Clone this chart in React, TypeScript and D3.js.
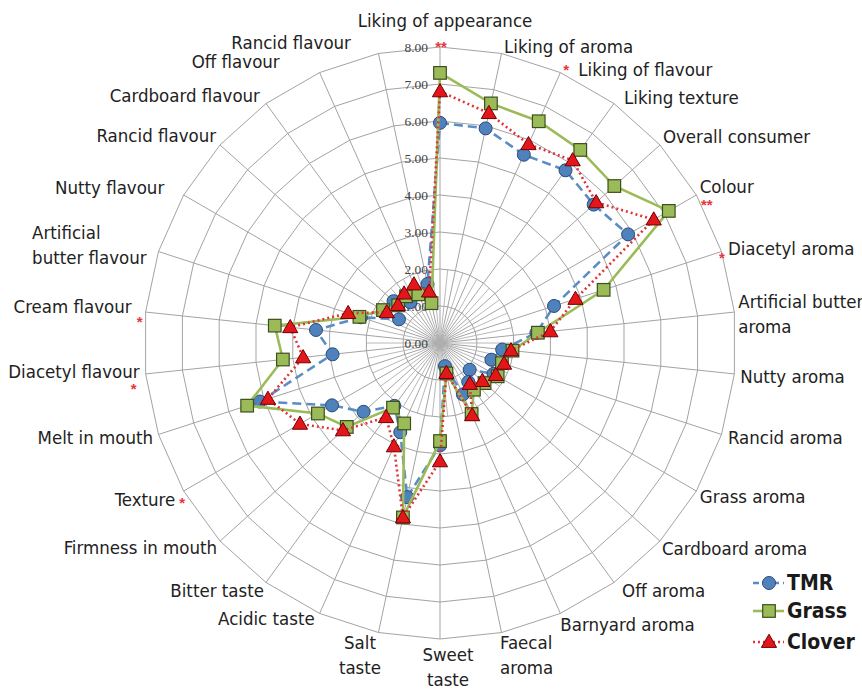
import React from "react";
import * as d3 from "d3";

const categories = [
  "Liking of appearance", "Liking of aroma", "Liking of flavour", "Liking texture",
  "Overall consumer", "Colour", "Diacetyl aroma", "Artificial butter aroma",
  "Nutty aroma", "Rancid aroma", "Grass aroma", "Cardboard aroma", "Off aroma",
  "Barnyard aroma", "Faecal aroma", "Sweet taste", "Salt taste", "Acidic taste",
  "Bitter taste", "Firmness in mouth", "Texture", "Melt in mouth", "Diacetyl flavour",
  "Cream flavour", "Artificial butter flavour", "Nutty flavour", "Rancid flavour",
  "Cardboard flavour", "Off flavour", "Rancid flavour",
];

const tmrValues = [5.95, 5.93, 5.57, 5.77, 5.59, 5.87, 3.24, 2.62, 1.69, 1.46, 1.67, 1.08, 1.3, 1.52, 0.64,
  2.77, 4.26, 2.64, 2.1, 2.78, 3.37, 5.12, 2.92, 3.37, 2.25, 1.28, 1.69, 1.36, 1.45, 1.63];
const grassValues = [7.3, 6.62, 6.56, 6.45, 6.34, 7.14, 4.65, 2.66, 1.97, 1.76, 1.8, 1.62, 1.56, 2.1, 0.84,
  2.65, 4.82, 2.38, 2.16, 3.39, 3.81, 5.48, 4.27, 4.49, 2.29, 1.78, 1.52, 1.56, 1.44, 1.1];
const cloverValues = [6.8, 6.35, 5.88, 6.1, 5.68, 6.67, 3.85, 3.0, 1.93, 1.82, 1.74, 1.54, 1.37, 2.14, 0.83,
  3.2, 4.82, 3.06, 2.48, 3.53, 4.37, 4.89, 3.72, 4.07, 2.61, 1.66, 1.53, 1.65, 1.73, 1.42];

const axisTicks = [0, 1, 2, 3, 4, 5, 6, 7, 8];
const significance = ["**", "", "*", "", "", "**", "*", "", "", "", "", "", "", "", "",
  "", "", "", "", "", "*", "", "*", "*", "", "", "", "", "", ""];
const seriesNames = ["TMR", "Grass", "Clover"];

const W = 862, H = 689, CX = 440, CY = 343, R = 296, LABEL_R = 308;
const labelFont = "'Liberation Sans Narrow', 'Arial Narrow', 'DejaVu Sans Condensed', sans-serif";

// label layout tweaks (line breaks, anchor, nudge)
const labelLayout: { lines?: string[]; anchor?: string; dx: number; dy: number }[] = [
  { anchor: "middle", dx: 5, dy: -14 },
  { dx: 0, dy: 5 },
  { dx: 13, dy: 8 },
  { dx: 3, dy: 4 },
  { dx: -6, dy: 0 },
  { dx: -7, dy: -2 },
  { dx: -5, dy: 1 },
  { lines: ["Artificial butter", "aroma"], dx: -8, dy: 3 },
  { dx: -6, dy: 1 },
  { dx: -5, dy: -1 },
  { dx: -7, dy: 0 },
  { dx: -7, dy: -1 },
  { dx: 1, dy: -2 },
  { dx: -5, dy: 0 },
  { lines: ["Faecal", "aroma"], dx: -4, dy: 11 },
  { lines: ["Sweet", "taste"], anchor: "middle", dx: 8, dy: 16 },
  { lines: ["Salt", "taste"], anchor: "middle", dx: -16, dy: 11 },
  { dx: 0, dy: -6 },
  { dx: 5, dy: -2 },
  { dx: 6, dy: -2 },
  { dx: 2, dy: 3 },
  { dx: 6, dy: -1 },
  { dx: 6, dy: -4 },
  { dx: -2, dy: -4 },
  { lines: ["Artificial", "butter flavour"], anchor: "start", dx: -115, dy: -3 },
  { dx: -9, dy: -1 },
  { dx: 5, dy: -1 },
  { dx: 1, dy: 2 },
  { dx: -35, dy: 0 },
  { dx: -25, dy: 1 },
];
const starOffsets: Record<number, [number, number]> = {
  0: [1, 17], 2: [1, 13], 5: [0, 21], 6: [-11, 15], 20: [9, 11], 22: [0, 19], 23: [6, 16],
};

export default function App() {
  const n = categories.length;
  const rScale = d3.scaleLinear().domain([0, 8]).range([0, R]);
  const aScale = d3.scaleLinear().domain([0, n]).range([0, 2 * Math.PI]);
  const pt = (i: number, v: number): [number, number] => {
    const a = aScale(i);
    return [CX + rScale(v) * Math.sin(a), CY - rScale(v) * Math.cos(a)];
  };
  const ringLine = d3.lineRadial<number>().angle((_, i) => aScale(i)).radius((d) => rScale(d)).curve(d3.curveLinearClosed);
  const idx = d3.range(n);

  const tri = d3.symbol(d3.symbolTriangle, 100)();

  const series = [
    { name: seriesNames[0], values: tmrValues, stroke: "#5a8cc6", dash: "9,5", marker: "circle", fill: "#4f81bd", mstroke: "#2a4a78" },
    { name: seriesNames[1], values: grassValues, stroke: "#9bbb59", dash: "", marker: "square", fill: "#9bbb59", mstroke: "#3c4f1c" },
    { name: seriesNames[2], values: cloverValues, stroke: "#e0333a", dash: "2,3", marker: "triangle", fill: "#e3161b", mstroke: "#700000" },
  ];

  const renderMarker = (m: string, x: number, y: number, fill: string, stroke: string, key: string) => {
    if (m === "circle") return <circle key={key} cx={x} cy={y} r={6.5} fill={fill} stroke={stroke} strokeWidth={1} />;
    if (m === "square") return <rect key={key} x={x - 6.3} y={y - 6.3} width={12.6} height={12.6} fill={fill} stroke={stroke} strokeWidth={1.2} />;
    return <path key={key} d={tri || ""} transform={`translate(${x},${y + 1})`} fill={fill} stroke={stroke} strokeWidth={1} />;
  };

  return (
    <svg width={W} height={H} style={{ position: "absolute", left: 0, top: 0, background: "#fff" }}>
      <rect width={W} height={H} fill="#fff" />
      <g>
        {axisTicks.slice(1).map((t) => (
          <path key={"ring" + t} d={ringLine(idx.map(() => t)) || ""} transform={`translate(${CX},${CY})`} fill="none" stroke="#a3a3a3" strokeWidth={1} />
        ))}
        {idx.map((i) => {
          const [x, y] = pt(i, 8);
          return <line key={"sp" + i} x1={CX} y1={CY} x2={x} y2={y} stroke="#a3a3a3" strokeWidth={1} />;
        })}
        {idx.map((i) => {
          const [x, y] = pt(i + 0.5, 2);
          return <line key={"msp" + i} x1={CX} y1={CY} x2={x} y2={y} stroke="#b0b0b0" strokeWidth={0.9} />;
        })}
      </g>
      <g fontFamily="'Liberation Serif', 'Times New Roman', serif" fontSize={13.5} fill="#444">
        {axisTicks.map((t) => (
          <text key={"tk" + t} x={CX - 12} y={CY - rScale(t)} dy="0.35em" textAnchor="end">{d3.format(".2f")(t)}</text>
        ))}
      </g>
      {series.map((s) => (
        <g key={s.name}>
          <path d={ringLine(s.values) || ""} transform={`translate(${CX},${CY})`} fill="none" stroke={s.stroke}
            strokeWidth={2.6} strokeDasharray={s.dash || undefined} />
          {s.values.map((v, i) => {
            const [x, y] = pt(i, v);
            return renderMarker(s.marker, x, y, s.fill, s.mstroke, s.name + i);
          })}
        </g>
      ))}
      <g fontFamily={labelFont} fontSize={18.5} fill="#222">
        {categories.map((c, i) => {
          const a = aScale(i);
          const s = Math.sin(a);
          const lay = labelLayout[i];
          const anchor = lay.anchor || (s > 0.05 ? "start" : s < -0.05 ? "end" : "middle");
          const bx = CX + LABEL_R * s;
          const by = CY - LABEL_R * Math.cos(a);
          const lines = lay.lines || [c];
          const lh = 25;
          const y0 = by + lay.dy - ((lines.length - 1) * lh) / 2;
          return (
            <text key={"lb" + i} x={bx + lay.dx} y={y0} dy="0.35em" textAnchor={anchor}>
              {lines.map((l, k) => (
                <tspan key={k} x={bx + lay.dx} y={y0 + k * lh} dy="0.35em">{l}</tspan>
              ))}
            </text>
          );
        })}
      </g>
      <g fontFamily="'Liberation Sans', Arial, sans-serif" fontSize={15} fill="#e8353a" fontWeight="bold">
        {significance.map((m, i) => {
          if (!m) return null;
          const a = aScale(i);
          const off = starOffsets[i] || [0, 0];
          const bx = CX + LABEL_R * Math.sin(a) + off[0];
          const by = CY - LABEL_R * Math.cos(a) + off[1];
          return <text key={"st" + i} x={bx} y={by} textAnchor="middle">{m}</text>;
        })}
      </g>
      <g fontFamily={labelFont} fontSize={21} fontWeight="bold" fill="#1a1a1a">
        {series.map((s, k) => {
          const ly = [583, 611, 642][k];
          return (
            <g key={"lg" + k}>
              <line x1={753} x2={784} y1={ly} y2={ly} stroke={s.stroke} strokeWidth={2.6} strokeDasharray={s.dash ? (k === 0 ? "6,4" : s.dash) : undefined} />
              {renderMarker(s.marker, 769, ly, s.fill, s.mstroke, "lm" + k)}
              <text x={787} y={ly} dy="0.35em">{s.name}</text>
            </g>
          );
        })}
      </g>
    </svg>
  );
}
